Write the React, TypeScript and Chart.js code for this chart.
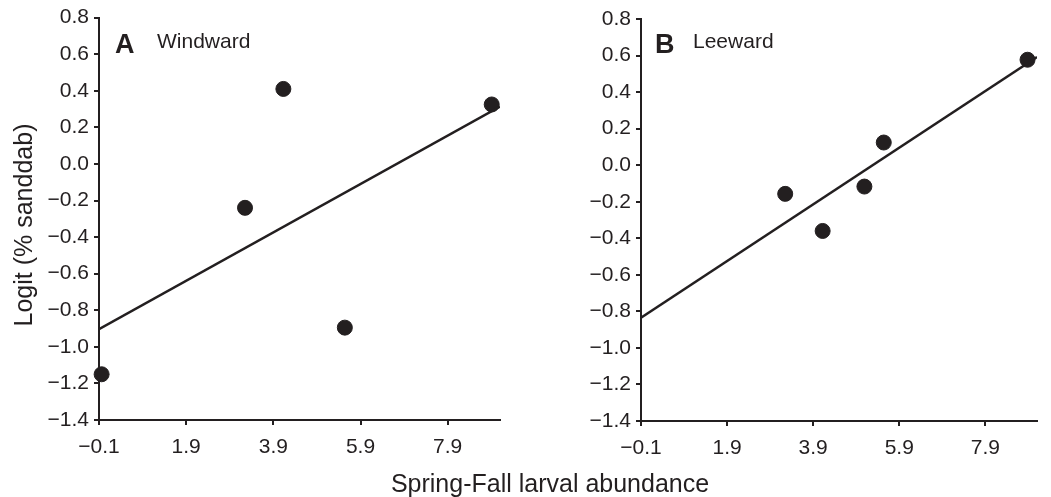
import React, { useEffect, useRef } from 'react';
import { Chart, registerables } from 'chart.js';

Chart.register(...registerables);

// ---- data ----
const xTicks = [-0.1, 1.9, 3.9, 5.9, 7.9];
const yTicks = [0.8, 0.6, 0.4, 0.2, 0.0, -0.2, -0.4, -0.6, -0.8, -1.0, -1.2, -1.4];

const windwardX = [-0.04, 3.25, 4.13, 5.54, 8.91];
const windwardY = [-1.15, -0.24, 0.41, -0.895, 0.325];
const windwardFitX = [-0.1, 9.1];
const windwardFitY = [-0.904, 0.313];

const leewardX = [3.25, 4.12, 5.09, 5.54, 8.88];
const leewardY = [-0.157, -0.36, -0.117, 0.124, 0.577];
const leewardFitX = [-0.1, 9.1];
const leewardFitY = [-0.835, 0.592];

const xTitle = 'Spring-Fall larval abundance';
const yTitle = 'Logit (% sanddab)';

const INK = '#231f20';
const FONT = "'Liberation Sans', Arial, Helvetica, sans-serif";

const fmt = (v: number) => (v < 0 ? '\u2212' : '') + Math.abs(v).toFixed(1);

type PanelCfg = {
  letter: string;
  name: string;
  xs: number[];
  ys: number[];
  fx: number[];
  fy: number[];
  width: number;
  yAxisWidth: number;
  padTop: number;
  padRight: number;
  xAxisHeight: number;
  letterDx: number;
  nameDx: number;
};

function makeChart(canvas: HTMLCanvasElement, p: PanelCfg) {
  const labelPlugin = {
    id: 'panelLabel',
    afterDraw(chart: any) {
      const { ctx, chartArea } = chart;
      ctx.save();
      ctx.fillStyle = INK;
      ctx.textBaseline = 'alphabetic';
      ctx.textAlign = 'left';
      ctx.font = `bold 27px ${FONT}`;
      ctx.fillText(p.letter, chartArea.left + p.letterDx, 53);
      ctx.font = `21px ${FONT}`;
      ctx.fillText(p.name, chartArea.left + p.nameDx, 48);
      ctx.restore();
    },
  };

  return new Chart(canvas, {
    type: 'scatter',
    data: {
      datasets: [
        {
          type: 'line',
          data: p.fx.map((x, i) => ({ x, y: p.fy[i] })),
          borderColor: INK,
          borderWidth: 2.5,
          pointRadius: 0,
          fill: false,
        } as any,
        {
          type: 'scatter',
          data: p.xs.map((x, i) => ({ x, y: p.ys[i] })),
          backgroundColor: INK,
          borderColor: INK,
          pointRadius: 7.5,
          pointHoverRadius: 7.5,
          clip: false,
        } as any,
      ],
    },
    options: {
      animation: false,
      responsive: false,
      maintainAspectRatio: false,
      events: [],
      layout: { padding: { left: 0, top: p.padTop, right: p.padRight, bottom: 0 } },
      plugins: { legend: { display: false }, tooltip: { enabled: false } },
      scales: {
        x: {
          type: 'linear',
          min: -0.1,
          max: 9.1,
          afterBuildTicks: (scale: any) => {
            scale.ticks = xTicks.map((v) => ({ value: v }));
          },
          afterFit: (scale: any) => {
            scale.height = p.xAxisHeight;
          },
          ticks: {
            color: INK,
            font: { family: FONT, size: 21 },
            padding: 10,
            maxRotation: 0,
            autoSkip: false,
            callback: (v: any) => fmt(Number(v)),
          },
          grid: {
            drawOnChartArea: false,
            drawTicks: true,
            tickLength: 5,
            color: INK,
            lineWidth: 2,
          },
          border: { display: true, color: INK, width: 2 },
        },
        y: {
          type: 'linear',
          min: -1.4,
          max: 0.8,
          afterBuildTicks: (scale: any) => {
            scale.ticks = yTicks.map((v) => ({ value: v }));
          },
          afterFit: (scale: any) => {
            scale.width = p.yAxisWidth;
          },
          ticks: {
            color: INK,
            font: { family: FONT, size: 21 },
            padding: 5,
            autoSkip: false,
            callback: (v: any) => fmt(Number(v)),
          },
          grid: {
            drawOnChartArea: false,
            drawTicks: true,
            tickLength: 5,
            color: INK,
            lineWidth: 2,
          },
          border: { display: true, color: INK, width: 2 },
        },
      },
    } as any,
    plugins: [labelPlugin],
  });
}

const leftCfg: PanelCfg = {
  letter: 'A',
  name: 'Windward',
  xs: windwardX,
  ys: windwardY,
  fx: windwardFitX,
  fy: windwardFitY,
  width: 520,
  yAxisWidth: 99,
  padTop: 17,
  padRight: 20,
  xAxisHeight: 77,
  letterDx: 16,
  nameDx: 58,
};

const rightCfg: PanelCfg = {
  letter: 'B',
  name: 'Leeward',
  xs: leewardX,
  ys: leewardY,
  fx: leewardFitX,
  fy: leewardFitY,
  width: 531,
  yAxisWidth: 121,
  padTop: 19,
  padRight: 14,
  xAxisHeight: 76,
  letterDx: 14,
  nameDx: 52,
};

export default function App() {
  const leftRef = useRef<HTMLCanvasElement>(null);
  const rightRef = useRef<HTMLCanvasElement>(null);

  useEffect(() => {
    const c1 = makeChart(leftRef.current!, leftCfg);
    const c2 = makeChart(rightRef.current!, rightCfg);
    return () => {
      c1.destroy();
      c2.destroy();
    };
  }, []);

  return (
    <div
      style={{
        position: 'fixed',
        left: 0,
        top: 0,
        width: 1051,
        height: 497,
        background: '#fff',
        overflow: 'hidden',
      }}
    >
      <canvas
        ref={leftRef}
        width={520}
        height={497}
        style={{ position: 'absolute', left: 0, top: 0, width: 520, height: 497 }}
      />
      <canvas
        ref={rightRef}
        width={531}
        height={497}
        style={{ position: 'absolute', left: 520, top: 0, width: 531, height: 497 }}
      />
      <div
        style={{
          position: 'absolute',
          left: 300,
          top: 468,
          width: 500,
          height: 30,
          lineHeight: '30px',
          textAlign: 'center',
          fontFamily: FONT,
          fontSize: 25,
          color: INK,
          whiteSpace: 'nowrap',
        }}
      >
        {xTitle}
      </div>
      <div
        style={{
          position: 'absolute',
          left: 23 - 150,
          top: 225 - 15,
          width: 300,
          height: 30,
          lineHeight: '30px',
          textAlign: 'center',
          fontFamily: FONT,
          fontSize: 25,
          color: INK,
          whiteSpace: 'nowrap',
          transform: 'rotate(-90deg)',
          transformOrigin: '50% 50%',
        }}
      >
        {yTitle}
      </div>
    </div>
  );
}
